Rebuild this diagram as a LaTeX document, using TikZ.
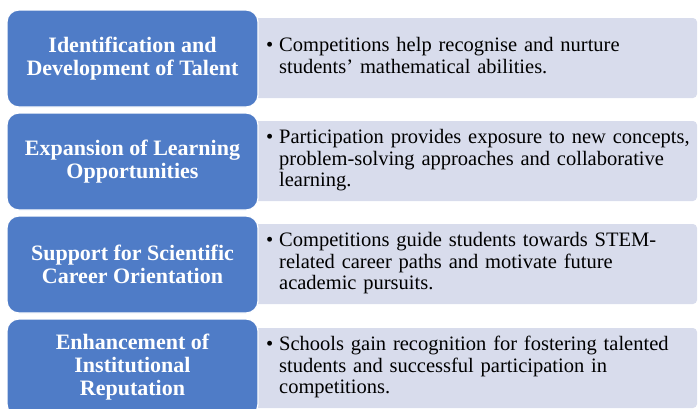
\documentclass[tikz,border=0pt]{standalone}
\usepackage{fontspec}
\setmainfont{Liberation Serif}
\usetikzlibrary{positioning}
\definecolor{headblue}{RGB}{79,124,199}
\definecolor{notefill}{RGB}{216,220,236}
\tikzset{
	headbox/.style={rectangle, rounded corners=12pt, fill=headblue, draw=white, line width=1.2pt,
		minimum width=251pt, minimum height=97pt, text=white, align=center,
		font=\fontsize{22}{23}\selectfont\bfseries},
	notebox/.style={rectangle, rounded corners=4pt, fill=notefill, draw=none,
		minimum width=447pt, minimum height=80pt, inner xsep=16pt, text width=415pt, align=left,
		font=\fontsize{20.5}{21.5}\selectfont},
}
\newcommand{\pt}[1]{\begin{tabular}{@{}l@{\hspace{6pt}}l@{}}\textbullet & #1\end{tabular}}
\begin{document}
\begin{tikzpicture}[x=1pt,y=1pt]
			\def\xmin{0} \def\xmax{699}
			\def\ymin{-408} \def\ymax{0}
			\useasboundingbox (\xmin,\ymin) rectangle (\xmax,\ymax);
			\clip (\xmin,\ymin) rectangle (\xmax,\ymax);
			% light boxes first, the blue ones overlap their left ends
			\node[notebox] (n1) at (473.5,-58) {\pt{Competitions help recognise and nurture\\ & students' mathematical abilities.}};
			\node[notebox] (n2) at (473.5,-161) {\pt{Participation provides exposure to new concepts,\\ & problem-solving approaches and collaborative\\ & learning.}};
			\node[notebox] (n3) at (473.5,-264) {\pt{Competitions guide students towards STEM-\\ & related career paths and motivate future\\ & academic pursuits.}};
			\node[notebox] (n4) at (473.5,-368) {\pt{Schools gain recognition for fostering talented\\ & students and successful participation in\\ & competitions.}};
			\node[headbox] (h1) at (132.5,-58.5) {Identification and\\Development of Talent};
			\node[headbox] (h2) at (132.5,-161.5) {Expansion of Learning\\Opportunities};
			\node[headbox] (h3) at (132.5,-264.5) {Support for Scientific\\Career Orientation};
			\node[headbox] (h4) at (132.5,-367.5) {Enhancement of\\Institutional\\Reputation};
\end{tikzpicture}
\end{document}
